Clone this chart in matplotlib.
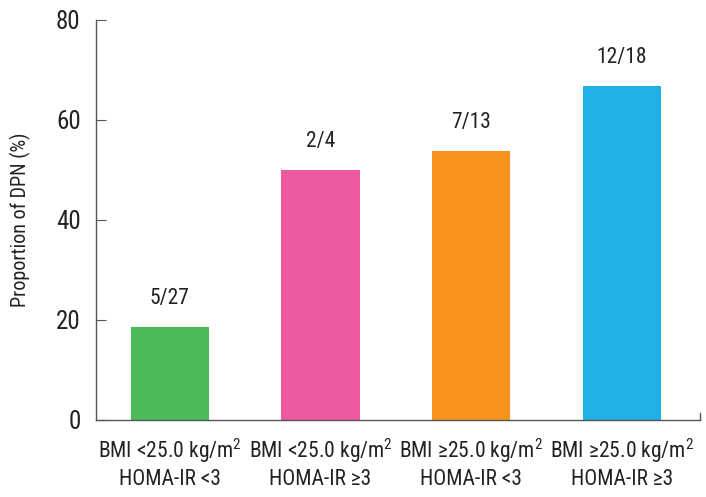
import matplotlib
matplotlib.use("Agg")
import matplotlib.pyplot as plt
from matplotlib import font_manager

categories = ["BMI <25.0 kg/m$^2$\nHOMA-IR <3",
              "BMI <25.0 kg/m$^2$\nHOMA-IR \u22653",
              "BMI \u226525.0 kg/m$^2$\nHOMA-IR <3",
              "BMI \u226525.0 kg/m$^2$\nHOMA-IR \u22653"]
values = [18.5, 50.0, 53.8, 66.7]
labels = ["5/27", "2/4", "7/13", "12/18"]
colors = ["#4cb95a", "#ee5aa0", "#f7941e", "#1fb1e5"]
yticks = [0, 20, 40, 60, 80]

names = {f.name for f in font_manager.fontManager.ttflist}
fam = [f for f in ["Liberation Sans Narrow", "Roboto Condensed", "Liberation Sans"] if f in names] + ["DejaVu Sans"]
plt.rcParams['font.family'] = fam
plt.rcParams['mathtext.fontset'] = 'custom'
plt.rcParams['mathtext.rm'] = fam[0]

fig = plt.figure(figsize=(7.06, 4.97), dpi=100)
ax = fig.add_axes([0.136, 0.155, 0.8555, 0.805])
x = list(range(len(values)))
ax.bar(x, values, width=0.52, color=colors)
for xi, v, lab in zip(x, values, labels):
    ax.annotate(lab, (xi, v), xytext=(0, 13), textcoords="offset points",
                ha="center", va="bottom", fontsize=15.5, color="#222222")
ax.set_xlim(-0.49, 3.52)
ax.set_ylim(0, 80)
ax.set_yticks(yticks)
ax.set_yticklabels([str(t) for t in yticks], fontsize=18, color="#222222")
ax.set_xticks(x)
ax.set_xticklabels(categories, fontsize=15.5, color="#222222", linespacing=1.25)
ax.tick_params(axis="x", length=0, pad=12)
ax.tick_params(axis="y", direction="in", length=7, color="#555555", pad=11)
for s in ["top", "right"]:
    ax.spines[s].set_visible(False)
for s in ["left", "bottom"]:
    ax.spines[s].set_color("#555555")
    ax.spines[s].set_linewidth(1.0)
ax.plot([1, 1], [0, 0.018], transform=ax.transAxes, color="#555555", lw=1.0, clip_on=False)
ax.set_ylabel("Proportion of DPN (%)", fontsize=14.5, color="#222222", labelpad=18)
fig.savefig("out.png", dpi=100)
